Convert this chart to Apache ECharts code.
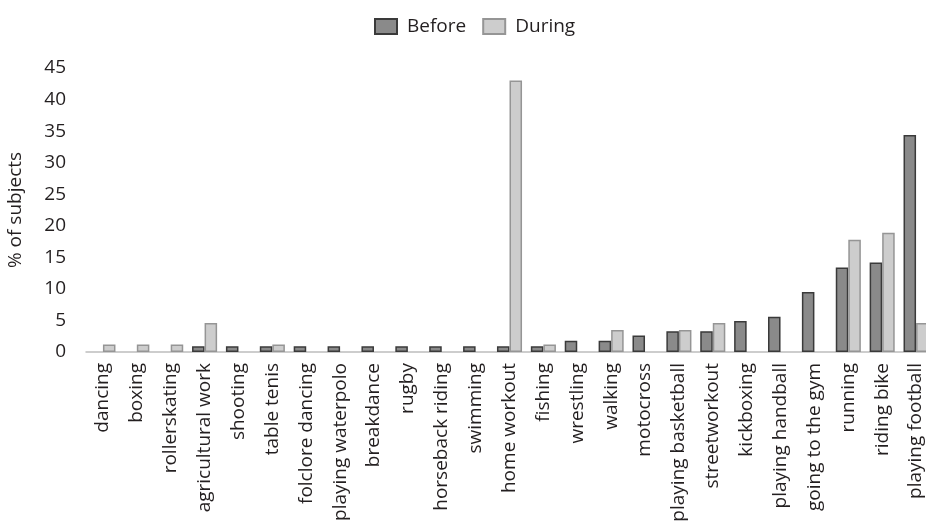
<!DOCTYPE html>
<html><head><meta charset="utf-8">
<script src="https://cdn.jsdelivr.net/npm/echarts@6/dist/echarts.min.js"></script>
<style>html,body{margin:0;padding:0;background:#fff}#c{width:926px;height:525px}</style>
</head><body><div id="c"></div>
<script>
const categories = ["dancing","boxing","rollerskating","agricultural work","shooting","table tenis","folclore dancing","playing waterpolo","breakdance","rugby","horseback riding","swimming","home workout","fishing","wrestling","walking","motocross","playing basketball","streetworkout","kickboxing","playing handball","going to the gym","running","riding bike","playing football"];
const before = [0,0,0,0.9,0.9,0.9,0.9,0.9,0.9,0.9,0.9,0.9,0.9,0.9,1.8,1.8,2.6,3.3,3.3,4.9,5.6,9.5,13.4,14.2,34.4];
const during = [1.2,1.2,1.2,4.6,0,1.2,0,0,0,0,0,0,43,1.2,0,3.5,0,3.5,4.6,0,0,0,17.8,18.9,4.6];
const yTicks = {min:0, max:45, interval:5};
const FONT = '"Open Sans", sans-serif';
const hideZero = arr => arr.map(v => v === 0 ? '-' : v);
const chart = echarts.init(document.getElementById('c'), null, {renderer:'canvas'});
chart.setOption({
  animation:false,
  textStyle:{fontFamily:FONT, color:'#231f20'},
  legend:{top:12, left:369, icon:'rect', itemWidth:22, itemHeight:15, itemGap:16,
    textStyle:{fontSize:19, color:'#231f20', fontFamily:FONT, padding:[0,0,0,5]},
    data:['Before','During']},
  grid:{left:86, width:847, top:68, bottom:173, containLabel:false, outerBoundsMode:'none'},
  xAxis:{type:'category', data:categories,
    axisLine:{lineStyle:{color:'#bdbdbd', width:1.5}},
    axisTick:{show:false},
    axisLabel:{rotate:90, interval:0, fontSize:19, color:'#231f20', margin:11, fontFamily:FONT}},
  yAxis:{type:'value', min:yTicks.min, max:yTicks.max, interval:yTicks.interval,
    name:'% of subjects', nameLocation:'middle', nameGap:61,
    nameTextStyle:{fontSize:19, color:'#231f20', fontFamily:FONT},
    axisLine:{show:false}, axisTick:{show:false}, splitLine:{show:false},
    axisLabel:{fontSize:19, color:'#231f20', margin:20, fontFamily:FONT}},
  series:[
    {name:'Before', type:'bar', data:hideZero(before), barGap:'0%', barCategoryGap:'26%',
      itemStyle:{color:'#8a8a8a', borderColor:'#3a3a3a', borderWidth:1.5}},
    {name:'During', type:'bar', data:hideZero(during),
      itemStyle:{color:'#cdcdcd', borderColor:'#959595', borderWidth:1.5}}
  ]
});
</script></body></html>
